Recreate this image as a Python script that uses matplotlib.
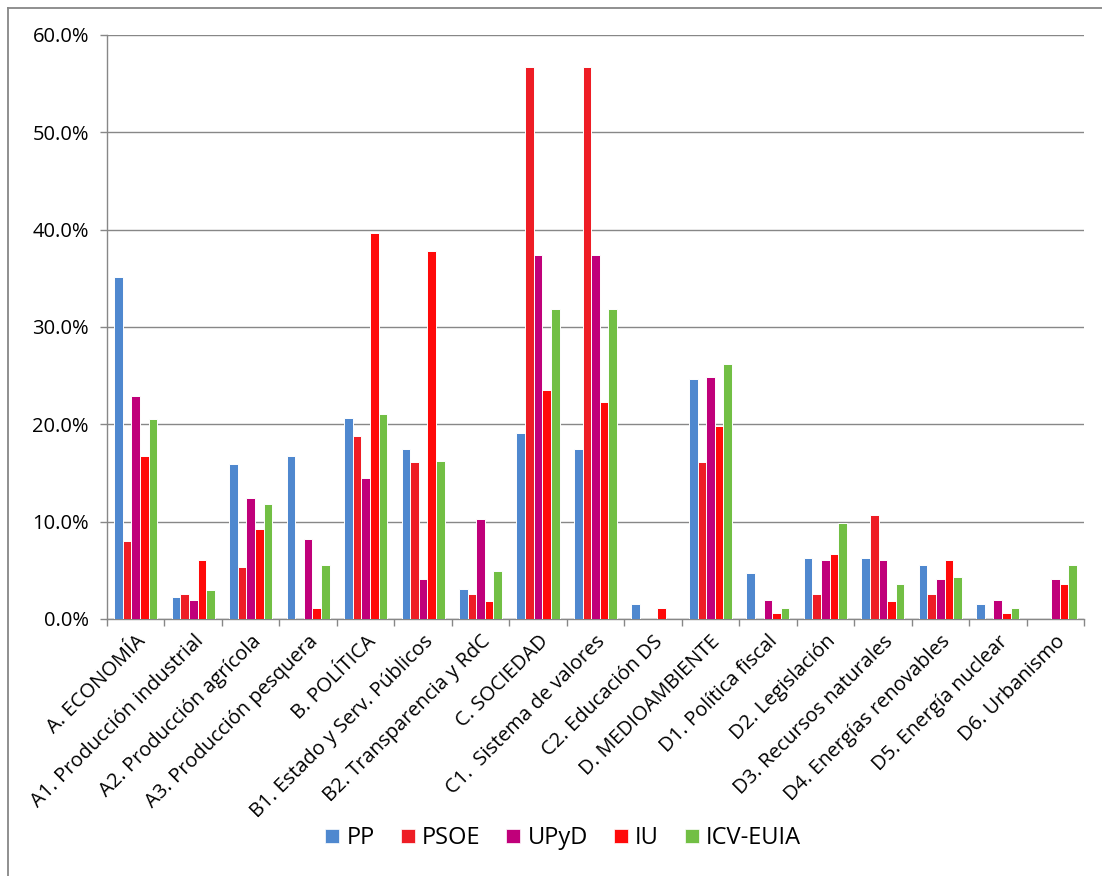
import matplotlib
matplotlib.use("Agg")
import matplotlib.pyplot as plt
import matplotlib.transforms as mtransforms
import numpy as np
from matplotlib.lines import Line2D
from matplotlib.ticker import FuncFormatter, FixedLocator

# datos del gráfico (porcentajes)
categorias = ["A. ECONOMÍA", "A1. Producción industrial", "A2. Producción agrícola",
              "A3. Producción pesquera", "B. POLÍTICA", "B1. Estado y Serv. Públicos",
              "B2. Transparencia y RdC", "C. SOCIEDAD", "C1.  Sistema de valores",
              "C2. Educación DS", "D. MEDIOAMBIENTE", "D1. Política fiscal",
              "D2. Legislación", "D3. Recursos naturales", "D4. Energías renovables",
              "D5. Energía nuclear", "D6. Urbanismo"]
partidos = ["PP", "PSOE", "UPyD", "IU", "ICV-EUIA"]
pp = [35.1, 2.3, 15.9, 16.7, 20.7, 17.5, 3.1, 19.1, 17.5, 1.5, 24.7, 4.7, 6.3, 6.3, 5.5, 1.5, 0]
psoe = [8.0, 2.6, 5.3, 0, 18.8, 16.1, 2.6, 56.7, 56.7, 0, 16.1, 0, 2.6, 10.7, 2.6, 0, 0]
upyd = [22.9, 2.0, 12.4, 8.2, 14.5, 4.1, 10.3, 37.4, 37.4, 0, 24.9, 2.0, 6.1, 6.1, 4.1, 2.0, 4.1]
iu = [16.7, 6.1, 9.2, 1.1, 39.7, 37.8, 1.8, 23.5, 22.3, 1.1, 19.8, 0.6, 6.7, 1.8, 6.1, 0.6, 3.6]
icv = [20.5, 3.0, 11.8, 5.5, 21.1, 16.2, 4.9, 31.8, 31.8, 0, 26.2, 1.1, 9.9, 3.6, 4.3, 1.1, 5.5]
series = [pp, psoe, upyd, iu, icv]
colores = ["#4F88CF", "#EE1D25", "#C0007A", "#FF0A0A", "#72BF44"]

plt.rcParams['font.family'] = ['Open Sans', 'DejaVu Sans']
gris = "#878787"

fig = plt.figure(figsize=(11.02, 8.76), dpi=100)
ax = fig.add_axes([107/1102, 1 - 619/876, (1084 - 107)/1102, (619 - 35)/876])

x = np.arange(len(categorias))
ancho = 0.15
for i, (vals, col) in enumerate(zip(series, colores)):
    ax.bar(x + (i - 2) * ancho, vals, width=ancho, color=col,
           edgecolor="white", linewidth=0.7, zorder=3)

# ejes
ax.set_xlim(-0.5, len(categorias) - 0.5)
ax.set_ylim(0, 60)
ax.set_yticks(np.arange(0, 61, 10))
ax.yaxis.set_major_formatter(FuncFormatter(lambda v, p: f"{v:.1f}%"))
ax.grid(axis='y', color=gris, linewidth=1.0, zorder=0)

ax.set_xticks(x)
ax.set_xticklabels(categorias, rotation=45, ha='right', va='top',
                   rotation_mode='anchor', fontsize=14.5)
# pequeño desplazamiento de las etiquetas (abajo a la izquierda)
desplaza = mtransforms.ScaledTranslation(-4/100, -5/100, fig.dpi_scale_trans)
for lbl in ax.get_xticklabels():
    lbl.set_transform(lbl.get_transform() + desplaza)
ax.tick_params(axis='x', which='major', length=0, pad=9)
ax.xaxis.set_minor_locator(FixedLocator(np.arange(-0.5, len(categorias), 1)))
ax.tick_params(axis='x', which='minor', length=5, width=1.0, color=gris, direction='out')
ax.tick_params(axis='y', length=5, width=1.0, color=gris, labelsize=14.5, pad=8)

for lado in ['top', 'right']:
    ax.spines[lado].set_visible(False)
for lado in ['left', 'bottom']:
    ax.spines[lado].set_color(gris)
    ax.spines[lado].set_linewidth(1.0)

# leyenda
handles = [Line2D([], [], marker='s', linestyle='none', markersize=9.5,
                  markerfacecolor=c, markeredgecolor='white', markeredgewidth=0.5)
           for c in colores]
fig.legend(handles, partidos, loc='center', bbox_to_anchor=(562/1102, 1 - 838/876),
           ncol=5, frameon=False, fontsize=17, handletextpad=0.2,
           columnspacing=1.0, handlelength=0.8)

# marco del área del gráfico
fig.add_artist(Line2D([8/1102, 1], [1 - 8/876, 1 - 8/876], color=gris, linewidth=1.3))
fig.add_artist(Line2D([8/1102, 8/1102], [0, 1 - 8/876], color=gris, linewidth=1.3))

fig.savefig("out.png", dpi=100)
